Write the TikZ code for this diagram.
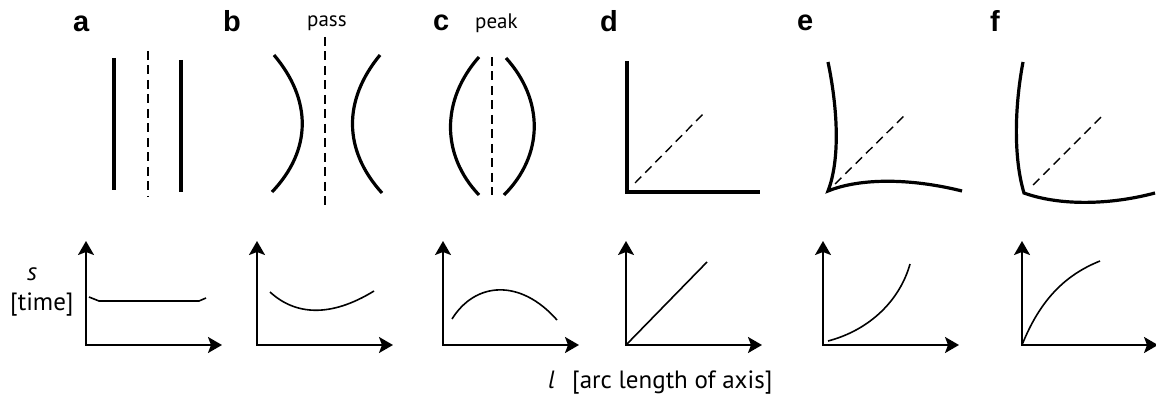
\documentclass[tikz,border=0pt]{standalone}
\usepackage{fontspec}
\setmainfont{Liberation Sans}
\newfontfamily\notefont{PT Sans}
\usetikzlibrary{arrows.meta}

\begin{document}
\begin{tikzpicture}[x=1pt, y=-1pt,
    panel/.style={anchor=base west, inner sep=0pt, font=\fontsize{29}{32}\selectfont\bfseries},
    note/.style={anchor=base west, inner sep=0pt, font=\notefont\fontsize{21}{24}\selectfont},
    axisname/.style={anchor=base west, inner sep=0pt, font=\notefont\fontsize{25}{28}\selectfont},
    wall/.style={line width=3.2pt},
    guide/.style={line width=1.4pt, dash pattern=on 9pt off 5.5pt},
    axes/.style={line width=2pt, {Stealth[length=14pt, width=16pt, inset=3pt]}-{Stealth[length=14pt, width=16pt, inset=3pt]}},
    trend/.style={line width=1.6pt}
]
\useasboundingbox (0,0) rectangle (1156,398);

% panel letters
\node[panel] (la) at (73,32) {a};
\node[panel] (lb) at (223,32) {b};
\node[panel] (lc) at (433,31) {c};
\node[panel] (ld) at (600,32) {d};
\node[panel] (le) at (797,31) {e};
\node[panel] (lf) at (990,32) {f};
\node[note] (pass) at (307,27) {pass};
\node[note] (peak) at (475,29) {peak};

% a: parallel walls
\draw[wall] (114,58) -- (114,190);
\draw[wall] (181,60) -- (181,192);
\draw[guide] (148,51) -- (148,197);

% b: pass
\draw[wall] (274,55) .. controls (312,100) and (312,150) .. (272,192);
\draw[wall] (380,55) .. controls (343,100) and (343,150) .. (382,193);
\draw[guide] (325,37) -- (325,205);

% c: peak
\draw[wall] (479,57) .. controls (441,100) and (441,155) .. (479,195);
\draw[wall] (506,58) .. controls (544,100) and (544,155) .. (504,195);
\draw[guide] (492,57) -- (492,195);

% d: straight corner
\draw[wall] (627,61) -- (627,192) -- (760,192);
\draw[guide] (635,183) -- (705,112);

% e: sharp corner
\draw[wall] (828,62) .. controls (838,110) and (840,160) .. (828,191)
    .. controls (860,178) and (910,178) .. (962,191);
\draw[guide] (835,184) -- (907,113);

% f: blunt corner
\draw[wall] (1023,62) .. controls (1014,110) and (1014,160) .. (1024,193)
    .. controls (1060,206) and (1110,205) .. (1155,193);
\draw[guide] (1033,185) -- (1104,114);

% graphs
\foreach \n/\ox in {a/86, b/257, c/443, d/626, e/823, f/1022} {
  \coordinate (o\n) at (\ox,345);
  \draw[axes] ([yshift=104pt]o\n) -- (o\n) -- ++(136,0);
}
\draw[trend] (89,297) -- (99,301) -- (199,301) -- (206,298);
\draw[trend] (270,292) .. controls (295,315) and (330,318) .. (374,291);
\draw[trend] (452,319) .. controls (475,282) and (520,278) .. (557,320);
\draw[trend] (od) -- (707,262);
\draw[trend] (828,341) .. controls (870,330) and (900,300) .. (910,264);
\draw[trend] (of) .. controls (1040,300) and (1065,275) .. (1100,261);

% axis names
\node[axisname, font=\notefont\itshape\fontsize{25}{28}\selectfont] (sname) at (27,280) {s};
\node[axisname] (sunit) at (10,310) {[time]};
\node[axisname, font=\notefont\itshape\fontsize{25}{28}\selectfont] (lname) at (548,388) {l};
\node[axisname] (lunit) at (572,388) {[arc length of axis]};
\end{tikzpicture}
\end{document}
